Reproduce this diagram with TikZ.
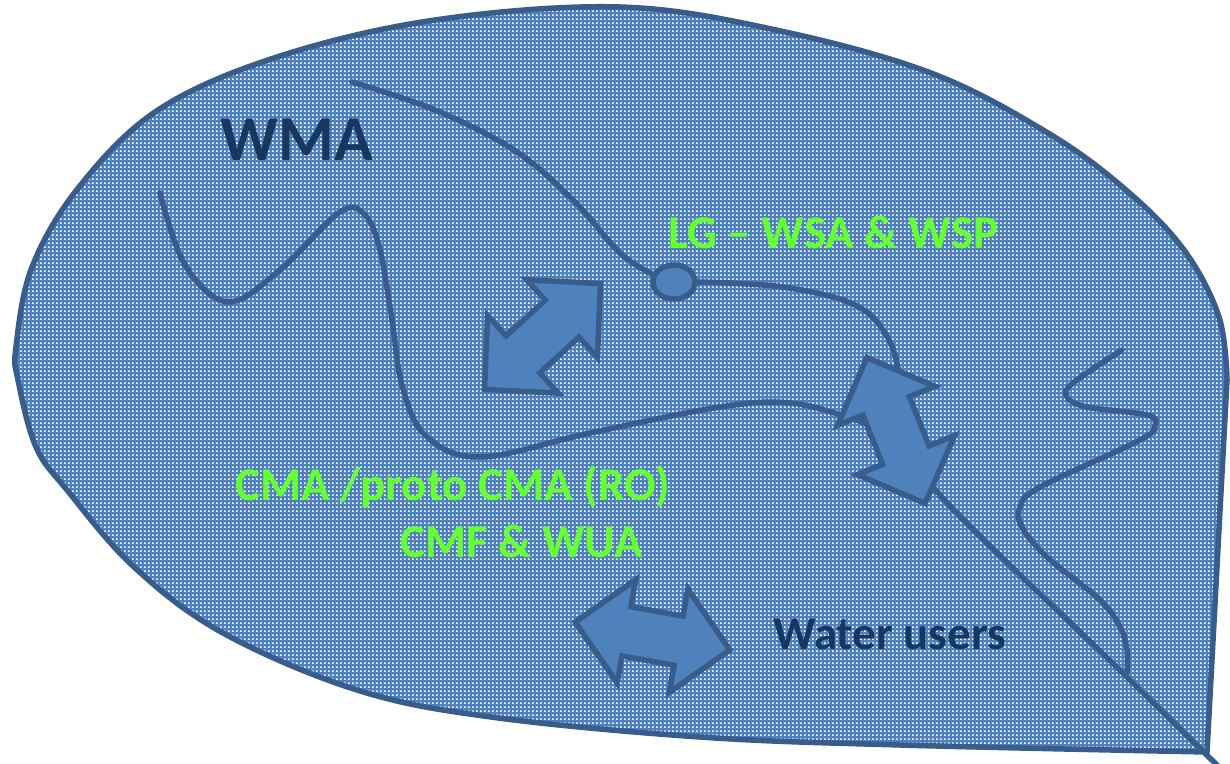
\documentclass[tikz,border=0pt]{standalone}
\usepackage{fontspec}
\setmainfont{Carlito}
\usetikzlibrary{shapes.geometric,patterns.meta}

\definecolor{lineblue}{RGB}{56,93,138}
\definecolor{arrowblue}{RGB}{79,129,189}
\definecolor{navy}{RGB}{23,55,94}
\definecolor{lggreen}{RGB}{102,255,51}

\tikzdeclarepattern{name=officedots, type=uncolored,
  bounding box={(0,0) and (4pt,4pt)}, tile size={(4pt,4pt)},
  code={\fill (0,0) rectangle (2pt,2pt);}}

% two-headed block arrow: centre, angle
\newcommand{\twoway}[2]{%
  \draw[blockarrow, shift={(#1)}, rotate=#2]
    (-78.5,0) -- (-26.5,52.5) -- (-26.5,25) -- (26.5,25) -- (26.5,52.5)
    -- (78.5,0) -- (26.5,-52.5) -- (26.5,-25) -- (-26.5,-25)
    -- (-26.5,-52.5) -- cycle;}

\begin{document}
\begin{tikzpicture}[x=1pt, y=-1pt,
  blob/.style={draw=lineblue, line width=5.5pt, preaction={fill=arrowblue},
    pattern=officedots, pattern color=white},
  river/.style={draw=lineblue, line width=5.5pt, line cap=round},
  blockarrow/.style={fill=arrowblue, draw=lineblue, line width=5.5pt},
  navytext/.style={text=navy, font=\bfseries\fontsize{47}{56}\selectfont,
    inner sep=0, anchor=base west},
  greentext/.style={text=lggreen, font=\bfseries\fontsize{47}{56}\selectfont,
    inner sep=0, anchor=base west}]

\useasboundingbox (0,0) rectangle (1230,763);

% water management area
\draw[blob] plot[smooth, tension=0.6] coordinates {(1207,752) (900,745)
  (700,737) (491,717) (357,690) (223,633) (134,567) (67,490) (36,447)
  (18,380) (16,347) (32,267) (79,187) (158,110) (277,57) (435,20) (620,7)
  (776,30) (931,73) (1048,133) (1126,190) (1184,250) (1219,317)
  (1227,380)} -- cycle;

% local government
\node[ellipse, draw=lineblue, fill=arrowblue, line width=5.5pt,
  minimum width=42pt, minimum height=34pt, inner sep=0] (lg) at (674,282) {};

% rivers
\draw[river] plot[smooth, tension=0.6] coordinates {(352,82) (435,110)
  (514,150) (573,200) (620,253) (lg.160)};
\draw[river] plot[smooth, tension=0.6] coordinates {(lg.east) (783,287)
  (855,305) (888,338) (902,385) (915,440) (940,495) (1127,677) (1218,766)};
\draw[river] plot[smooth, tension=0.6] coordinates {(160,193) (185,265)
  (228,302) (280,270) (340,212) (365,215) (380,250) (392,320) (402,385)
  (425,435) (480,457) (590,433) (720,407) (790,403) (850,418) (895,435)};
\draw[river] plot[smooth, tension=0.6] coordinates {(1122,350) (1073,383)
  (1067,397) (1087,407) (1147,415) (1155,425) (1140,440) (1040,487)
  (1020,507) (1022,527) (1047,557) (1100,600) (1120,627) (1127,650)
  (1127,673)};

% links
\twoway{542.5,336.5}{42.4}
\twoway{896,430.5}{-68.2}
\twoway{652.5,636}{-10.2}

% labels
\node[navytext, font=\bfseries\fontsize{64}{70}\selectfont] (wma) at (220,160) {WMA};
\node[greentext] (lgtext) at (668,248) {LG \textendash{} WSA \& WSP};
\node[greentext] (cma) at (235,500) {CMA /proto CMA (RO)};
\node[greentext] (cmf) at (400,557) {CMF \& WUA};
\node[navytext] (users) at (773,649) {Water users};
\end{tikzpicture}
\end{document}
